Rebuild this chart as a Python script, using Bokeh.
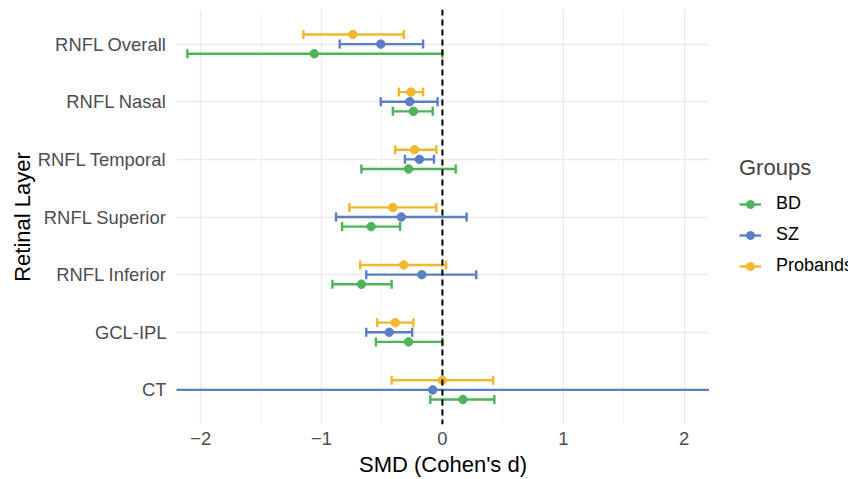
import math
from bokeh.plotting import figure
from bokeh.layouts import row
from bokeh.models import (ColumnDataSource, Range1d, FixedTicker, SingleIntervalTicker,
                          Span, Legend, LegendItem)
from bokeh.transform import dodge
from bokeh.embed import file_html
from bokeh.resources import INLINE

# ---------------- data ----------------
layers = ["RNFL Overall", "RNFL Nasal", "RNFL Temporal", "RNFL Superior",
          "RNFL Inferior", "GCL-IPL", "CT"]

groups = ["BD", "SZ", "Probands"]

bd_d  = [-1.06, -0.24, -0.28, -0.59, -0.67, -0.28, 0.17]
bd_lo = [-2.11, -0.41, -0.67, -0.83, -0.91, -0.55, -0.10]
bd_hi = [0.00, -0.08, 0.11, -0.35, -0.42, 0.00, 0.43]

sz_d  = [-0.51, -0.27, -0.19, -0.34, -0.17, -0.44, -0.08]
sz_lo = [-0.85, -0.51, -0.31, -0.88, -0.63, -0.63, -2.45]
sz_hi = [-0.16, -0.04, -0.07, 0.20, 0.28, -0.25, 2.30]

pr_d  = [-0.74, -0.26, -0.23, -0.41, -0.32, -0.39, 0.00]
pr_lo = [-1.15, -0.36, -0.39, -0.77, -0.68, -0.54, -0.42]
pr_hi = [-0.32, -0.16, -0.05, -0.05, 0.03, -0.24, 0.42]

ref_line = 0

colors = {"BD": "#4FB35A", "SZ": "#5B7EC6", "Probands": "#F2B72F"}
offsets = {"BD": -0.1667, "SZ": 0.0, "Probands": 0.1667}
series = {"BD": (bd_d, bd_lo, bd_hi), "SZ": (sz_d, sz_lo, sz_hi),
          "Probands": (pr_d, pr_lo, pr_hi)}

n = len(layers)
yidx = [n - i for i in range(n)]  # top category at highest position

FONT = "Liberation Sans"
LW = 2.4

# ---------------- main plot ----------------
p = figure(width=709, height=479, output_backend="svg", toolbar_location=None,
           x_range=Range1d(-2.2, 2.21), y_range=Range1d(0.4, n + 0.6),
           min_border_left=176, min_border_right=0, min_border_top=9,
           min_border_bottom=53)
p.outline_line_color = None
p.background_fill_color = "white"
p.border_fill_color = "white"

p.xaxis.ticker = SingleIntervalTicker(interval=1, num_minor_ticks=2)
p.yaxis.ticker = FixedTicker(ticks=yidx)
p.yaxis.major_label_overrides = {y: name for y, name in zip(yidx, layers)}
for ax in (p.xaxis, p.yaxis):
    ax.axis_line_color = None
    ax.major_tick_line_color = None
    ax.minor_tick_line_color = None
    ax.major_tick_out = 0
    ax.major_tick_in = 0
    ax.minor_tick_out = 0
    ax.minor_tick_in = 0
    ax.major_label_text_font = FONT
    ax.major_label_text_font_size = "18.4px"
    ax.major_label_text_color = "#4D4D4D"
    ax.axis_label_text_font = FONT
    ax.axis_label_text_font_size = "22px"
    ax.axis_label_text_font_style = "normal"
    ax.axis_label_text_color = "black"
p.xaxis.axis_label = "SMD (Cohen's d)"
p.yaxis.axis_label = "Retinal Layer"
p.xaxis.major_label_standoff = 7
p.xaxis.axis_label_standoff = 4
p.yaxis.major_label_standoff = 10
p.yaxis.axis_label_standoff = 0

p.xgrid.grid_line_color = "#EBEBEB"
p.xgrid.grid_line_width = 1.4
p.xgrid.minor_grid_line_color = "#F3F3F3"
p.xgrid.minor_grid_line_width = 1.0
p.ygrid.grid_line_color = "#EBEBEB"
p.ygrid.grid_line_width = 1.4

sources = {}
for g in groups:
    d, lo, hi = series[g]
    src = ColumnDataSource(dict(y=yidx, d=d, lo=lo, hi=hi))
    sources[g] = src
    yd = dodge("y", offsets[g], range=p.y_range)
    p.segment(x0="lo", x1="hi", y0=yd, y1=yd, source=src,
              line_color=colors[g], line_width=LW)
    p.scatter(x="lo", y=yd, source=src, marker="dash", angle=math.pi / 2,
              size=9, line_color=colors[g], line_width=LW)
    p.scatter(x="hi", y=yd, source=src, marker="dash", angle=math.pi / 2,
              size=9, line_color=colors[g], line_width=LW)
    p.scatter(x="d", y=yd, source=src, marker="circle", size=8.5,
              fill_color=colors[g], line_color=colors[g], line_width=1)

p.add_layout(Span(location=ref_line, dimension="height", line_color="black",
                  line_width=2, line_dash="6 4"))

# ---------------- legend panel (beside the plot) ----------------
leg = figure(width=139, height=479, output_backend="svg", toolbar_location=None,
             x_axis_type=None, y_axis_type=None, min_border=0,
             x_range=Range1d(-2.2, 2.21), y_range=Range1d(0.4, n + 0.6))
leg.outline_line_color = None
leg.grid.visible = False

items = []
for g in groups:
    src = sources[g]
    seg = leg.segment(x0="lo", x1="hi", y0="y", y1="y", source=src,
                      line_color=colors[g], line_width=LW, visible=False)
    pts = leg.scatter(x="d", y="y", source=src, marker="circle", size=8.5,
                      fill_color=colors[g], line_color=colors[g], line_width=1,
                      visible=False)
    items.append(LegendItem(label=g, renderers=[seg, pts]))

legend = Legend(items=items, location=(30, 148), title="Groups",
                title_text_font=FONT, title_text_font_size="22px",
                title_text_font_style="normal", title_standoff=12,
                label_text_font=FONT, label_text_font_size="18px",
                label_text_color="black",
                glyph_width=22, glyph_height=20, label_height=20,
                label_standoff=15, spacing=10, padding=0, margin=0,
                border_line_color=None, background_fill_alpha=0)
leg.add_layout(legend, "center")

layout = row(p, leg, spacing=0)
open("out.html", "w").write(file_html(layout, INLINE))
